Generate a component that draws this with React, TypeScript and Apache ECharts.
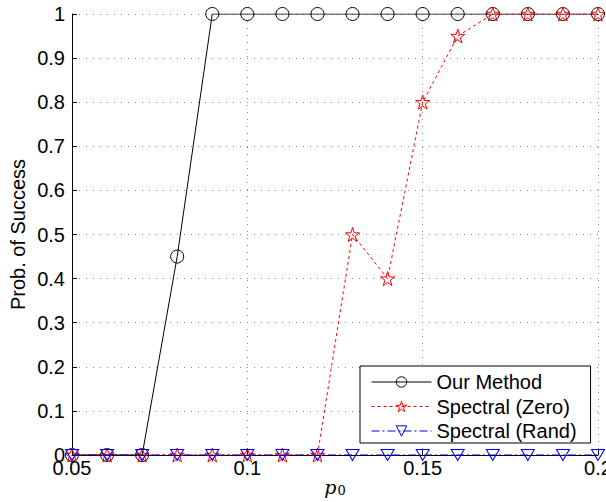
import React, { useEffect, useRef } from "react";
import * as echarts from "echarts";

const p0 = [0.05, 0.06, 0.07, 0.08, 0.09, 0.1, 0.11, 0.12, 0.13, 0.14, 0.15, 0.16, 0.17, 0.18, 0.19, 0.2];
const ourMethod = [0, 0, 0, 0.45, 1, 1, 1, 1, 1, 1, 1, 1, 1, 1, 1, 1];
const spectralZero = [0, 0, 0, 0, 0, 0, 0, 0, 0.5, 0.4, 0.8, 0.95, 1, 1, 1, 1];
const spectralRand = [0, 0, 0, 0, 0, 0, 0, 0, 0, 0, 0, 0, 0, 0, 0, 0];
const seriesNames = ["Our Method", "Spectral (Zero)", "Spectral (Rand)"];

const star =
  "path://M50,0 L61.8,35.5 L100,35.5 L69.1,57.6 L80.9,93.5 L50,71.4 L19.1,93.5 L30.9,57.6 L0,35.5 L38.2,35.5 Z";

const FONT = "Liberation Sans, Arial, Helvetica, sans-serif";
const CLEAR = "rgba(255,255,255,0)";

export default function App() {
  const ref = useRef<HTMLDivElement>(null);
  useEffect(() => {
    const chart = echarts.init(ref.current!, undefined, { renderer: "svg" });
    const pair = (ys: number[]) => p0.map((x, i) => [x, ys[i]]);
    const styles = [
      { symbol: "circle", size: 13, rotate: 0, color: "#000", dash: "solid" as any, z: 2 },
      { symbol: star, size: 14, rotate: 0, color: "#f00", dash: [3, 3], z: 3 },
      { symbol: "triangle", size: [13, 11], rotate: 180, color: "#00f", dash: [8, 3, 2, 3], z: 4 },
    ];
    const datas = [ourMethod, spectralZero, spectralRand];
    chart.setOption({
      animation: false,
      backgroundColor: "#fff",
      textStyle: { fontFamily: FONT },
      grid: { left: 72, right: 8, top: 14, bottom: 47, containLabel: false, outerBoundsMode: "none" },
      xAxis: {
        type: "value",
        min: 0.05,
        max: 0.2,
        interval: 0.05,
        name: "{p|p}{s|0}",
        nameLocation: "middle",
        nameGap: 21,
        nameMoveOverlap: false,
        nameTextStyle: {
          rich: {
            p: { fontFamily: "DejaVu Serif, serif", fontStyle: "italic", fontSize: 19, color: "#000" },
            s: { fontFamily: "DejaVu Serif, serif", fontSize: 13, color: "#000", verticalAlign: "bottom", padding: [8, 0, 0, 1] },
          },
        },
        axisLine: { show: true, lineStyle: { color: "#000", width: 1 } },
        axisTick: { show: true, inside: true, length: 5, lineStyle: { color: "#000" } },
        axisLabel: {
          color: "#000",
          fontSize: 20,
          margin: 3,
          formatter: (v: number) => String(+v.toFixed(2)),
        },
        splitLine: { show: true, lineStyle: { color: "#888", type: [1, 6], width: 1 } },
      },
      yAxis: {
        type: "value",
        min: 0,
        max: 1,
        interval: 0.1,
        name: "Prob. of Success",
        nameLocation: "middle",
        nameGap: 44,
        nameMoveOverlap: false,
        nameTextStyle: { color: "#000", fontSize: 20, fontFamily: FONT },
        axisLine: { show: true, lineStyle: { color: "#000", width: 1 } },
        axisTick: { show: true, inside: true, length: 5, lineStyle: { color: "#000" } },
        axisLabel: {
          color: "#000",
          fontSize: 20,
          margin: 7,
          formatter: (v: number) => String(+v.toFixed(1)),
        },
        splitLine: { show: true, lineStyle: { color: "#888", type: [1, 6], width: 1 } },
      },
      legend: {
        left: 360,
        top: 366,
        orient: "vertical",
        data: seriesNames.map((name, i) => ({
          name,
          itemStyle: { color: CLEAR, borderColor: styles[i].color, borderWidth: 1 },
          lineStyle: { color: styles[i].color, width: 1, type: styles[i].dash },
        })),
        backgroundColor: "#fff",
        borderColor: "#000",
        borderWidth: 1,
        borderRadius: 0,
        padding: [6, 14, 2, 11],
        itemGap: 4.5,
        itemWidth: 60,
        itemHeight: 13,
        textStyle: { color: "#000", fontSize: 20, fontFamily: FONT, lineHeight: 20 },
      },
      series: seriesNames.map((name, i) => ({
        name,
        type: "line",
        data: pair(datas[i]),
        symbol: styles[i].symbol,
        symbolRotate: styles[i].rotate,
        symbolSize: styles[i].size,
        itemStyle: { color: CLEAR, borderColor: styles[i].color, borderWidth: 1 },
        lineStyle: { color: styles[i].color, width: 1, type: styles[i].dash },
        z: styles[i].z,
      })),
    });
    return () => chart.dispose();
  }, []);
  return <div ref={ref} style={{ width: 606, height: 502, position: "absolute", left: 0, top: 0 }} />;
}
